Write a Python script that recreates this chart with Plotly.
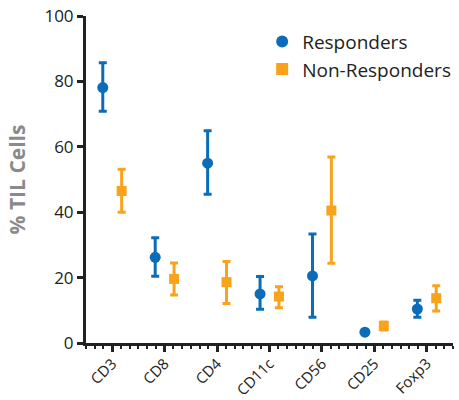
import plotly.graph_objects as go

categories = ["CD3", "CD8", "CD4", "CD11c", "CD56", "CD25", "Foxp3"]
resp_mean = [78.1, 26.2, 55.0, 15.0, 20.5, 3.3, 10.4]
resp_upper = [85.7, 32.2, 64.9, 20.3, 33.3, 3.6, 13.1]
resp_lower = [70.9, 20.4, 45.5, 10.3, 7.9, 3.0, 7.9]
nonresp_mean = [46.5, 19.6, 18.6, 14.2, 40.5, 5.2, 13.7]
nonresp_upper = [53.1, 24.5, 24.9, 17.2, 56.9, 6.4, 17.5]
nonresp_lower = [40.0, 14.7, 12.1, 10.8, 24.4, 4.0, 9.8]
y_ticks = [0, 20, 40, 60, 80, 100]

BLUE = "#0b6cb9"
ORANGE = "#f9a31c"
idx = list(range(len(categories)))
off = 0.18

fig = go.Figure()
fig.add_trace(go.Scatter(
    x=[i - off for i in idx], y=resp_mean, mode="markers", name="Responders",
    marker=dict(symbol="circle", size=11, color=BLUE),
    error_y=dict(type="data", symmetric=False,
                 array=[u - m for u, m in zip(resp_upper, resp_mean)],
                 arrayminus=[m - l for m, l in zip(resp_mean, resp_lower)],
                 color=BLUE, thickness=3, width=4),
))
fig.add_trace(go.Scatter(
    x=[i + off for i in idx], y=nonresp_mean, mode="markers", name="Non-Responders",
    marker=dict(symbol="square", size=10, color=ORANGE),
    error_y=dict(type="data", symmetric=False,
                 array=[u - m for u, m in zip(nonresp_upper, nonresp_mean)],
                 arrayminus=[m - l for m, l in zip(nonresp_mean, nonresp_lower)],
                 color=ORANGE, thickness=3, width=4),
))

fig.update_layout(
    width=459, height=400,
    margin=dict(l=86, r=3, t=16, b=57),
    paper_bgcolor="white", plot_bgcolor="white",
    font=dict(family="Open Sans, Lato, sans-serif", color="#222222", size=16),
    showlegend=True,
    legend=dict(x=0.48, y=0.98, xanchor="left", yanchor="top",
                font=dict(size=19, color="#222222"),
                bgcolor="rgba(0,0,0,0)", itemsizing="constant",
                tracegroupgap=1),
    xaxis=dict(
        range=[-0.5, 6.5], tickmode="array", tickvals=idx, ticktext=categories,
        tickangle=-45, showgrid=False, zeroline=False, automargin=False,
        showline=True, linecolor="#222222", linewidth=3,
        ticks="outside", ticklen=6, tickwidth=2.5, tickcolor="#222222",
        ticklabelstandoff=-3,
        tickfont=dict(size=15, color="#222222"),
        minor=dict(tick0=-0.5, dtick=1/6, ticks="outside", ticklen=3,
                   tickwidth=2, tickcolor="#222222", showgrid=False),
    ),
    yaxis=dict(
        range=[0, 100], tickmode="array", tickvals=y_ticks,
        showgrid=False, zeroline=False, automargin=False,
        showline=True, linecolor="#222222", linewidth=3,
        ticks="outside", ticklen=6, tickwidth=2.5, tickcolor="#222222",
        tickfont=dict(size=17, color="#222222"),
        title=dict(text="<b>% TIL Cells</b>", font=dict(size=21, color="#8a8a8a"),
                   standoff=14),
    ),
)

fig.write_html("out.html")
